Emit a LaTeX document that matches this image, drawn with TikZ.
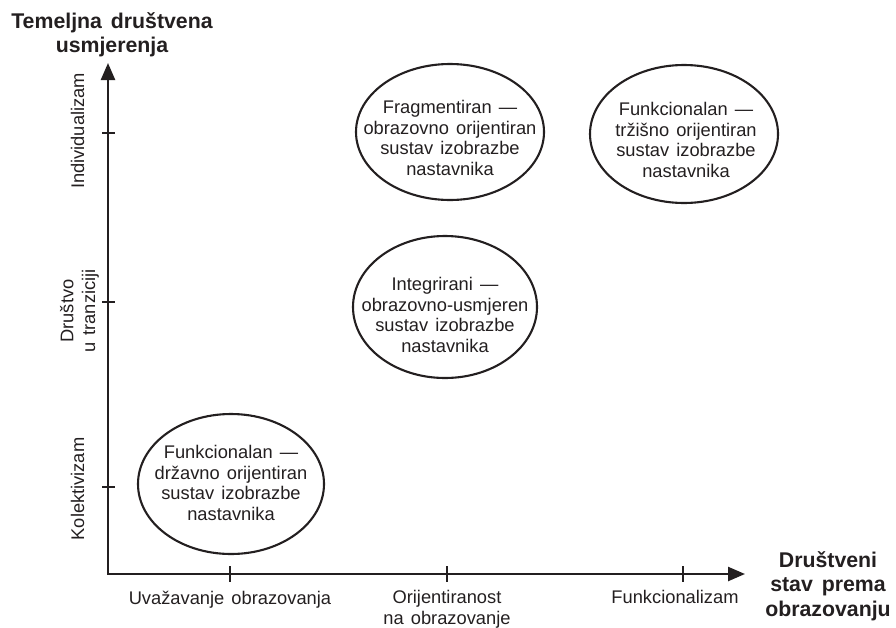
\documentclass[tikz,border=0pt]{standalone}
\usepackage{fontspec}
\setmainfont{Liberation Sans}[WordSpace=1.4]
\newfontfamily\headfamily{Liberation Sans}[WordSpace=1.5]
\usetikzlibrary{arrows.meta,shapes.geometric}
\definecolor{ink}{RGB}{35,31,32}
\begin{document}
\begin{tikzpicture}[x=1pt,y=-1pt,
  axis/.style={line width=2.4pt, draw=ink, line join=miter},
  tickmark/.style={line width=2.2pt, draw=ink},
  oval/.style={ellipse, draw=ink, line width=2.1pt, inner sep=0pt},
  lbl/.style={font=\fontsize{18.3}{20.8}\selectfont, text=ink, inner sep=0pt, align=center},
  head/.style={font=\headfamily\bfseries\fontsize{21.3}{24.5}\selectfont, text=ink, inner sep=0pt, align=center}]
\useasboundingbox (0,0) rectangle (896,627);

% axes
\coordinate (O) at (108,574);
\coordinate (ytop) at (108,63);
\coordinate (xend) at (745,574);
\draw[axis, {Triangle[length=17pt,width=14pt]}-{Triangle[length=17pt,width=14pt]}] (ytop) -- (O) -- (xend);

% ticks
\foreach \n/\yy in {ty1/133, ty2/302, ty3/487} {
  \coordinate (\n) at (108,\yy);
  \draw[tickmark] ([xshift=-6pt]\n) -- ([xshift=7pt]\n);
}
\foreach \n/\xx in {tx1/230, tx2/447, tx3/683} {
  \coordinate (\n) at (\xx,574);
  \draw[tickmark] ([yshift=8pt]\n) -- ([yshift=-8pt]\n);
}

% axis titles
\node[head, anchor=north] (ytitle) at (112,12) {Temeljna društvena\\usmjerenja};
\node[head, anchor=north] (xtitle) at (828,551) {Društveni\\stav prema\\obrazovanju};

% y labels
\node[lbl, rotate=90, anchor=base] (yl1) at (84,131) {Individualizam};
\node[lbl, rotate=90] (yl2) at (79.5,311) {Društvo\\[1pt]u tranziciji};
\node[lbl, rotate=90, anchor=base] (yl3) at (84,489) {Kolektivizam};

% x labels
\node[lbl, anchor=north] (xl1) at (230,590.5) {Uvažavanje obrazovanja};
\node[lbl, anchor=north] (xl2) at (447,590.5) {Orijentiranost\\na obrazovanje};
\node[lbl, anchor=north] (xl3) at (675,590.5) {Funkcionalizam};

% ellipses
\node[oval, minimum width=188pt, minimum height=136pt] (e1) at (450,132) {};
\node[oval, minimum width=188pt, minimum height=138pt] (e2) at (684,134) {};
\node[oval, minimum width=184pt, minimum height=142pt] (e3) at (445,307) {};
\node[oval, minimum width=186pt, minimum height=140pt] (e4) at (231,484) {};

\node[lbl] (t1) at (450,138) {Fragmentiran —\\obrazovno orijentiran\\sustav izobrazbe\\nastavnika};
\node[lbl] (t2) at (686,140) {Funkcionalan —\\tržišno orijentiran\\sustav izobrazbe\\nastavnika};
\node[lbl] (t3) at (445,315) {Integrirani —\\obrazovno-usmjeren\\sustav izobrazbe\\nastavnika};
\node[lbl] (t4) at (231,483) {Funkcionalan —\\državno orijentiran\\sustav izobrazbe\\nastavnika};
\end{tikzpicture}
\end{document}
